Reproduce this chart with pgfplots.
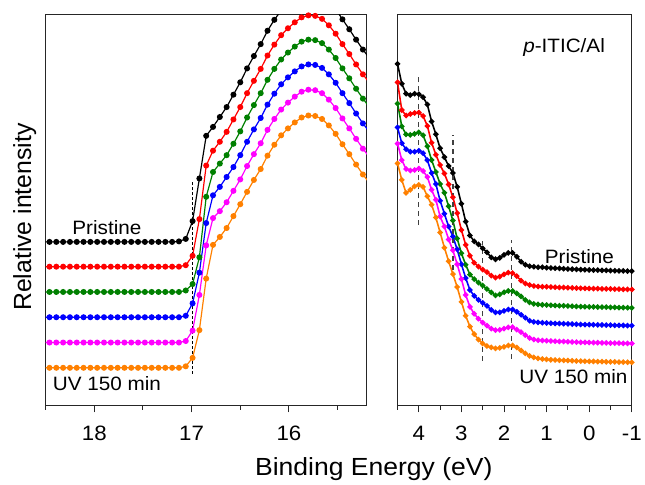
\documentclass[border=0pt]{standalone}
\usepackage{fontspec}
\setmainfont{Liberation Sans}[FakeStretch=1.07]
\newfontfamily\plainfont{Liberation Sans}
\usepackage{pgfplots}
\usepackage{pgfplotstable}
\pgfplotsset{compat=1.18}
\definecolor{cgreen}{RGB}{0,128,0}
\definecolor{corange}{RGB}{255,128,0}
\definecolor{cmag}{RGB}{255,0,255}

\pgfplotstableread{
x bk rd gn bl mg or
18.53 165 140 114.5 89 63.5 38
18.46 165 140 114.5 89 63.5 38
18.39 165 140 114.5 89 63.5 38
18.32 165 140 114.5 89 63.5 38
18.25 165 140 114.5 89 63.5 38
18.18 165 140 114.5 89 63.5 38
18.11 165 140 114.5 89 63.5 38
18.04 165 140 114.5 89 63.5 38
17.97 165 140 114.5 89 63.5 38
17.90 165 140 114.5 89 63.5 38
17.83 165 140 114.5 89 63.5 38
17.76 165 140 114.5 89 63.5 38
17.69 165 140 114.5 89 63.5 38
17.62 165 140 114.5 89 63.5 38
17.55 165 140 114.5 89 63.5 38
17.48 165 140 114.5 89 63.5 38
17.41 165 140 114.5 89 63.5 38
17.34 165 140 114.5 89 63.5 38
17.27 165 140 114.5 89 63.5 38
17.20 165 140 114.5 89 63.5 38
17.13 165.5 140 114.5 89 63.5 38
17.06 168 141.5 116 90.5 65 39.5
16.99 186 151 122.5 103 75.5 48
16.92 229 188 149.5 134 111.5 76
16.85 272 242 210.5 184 161.5 128
16.78 281 257 235.5 212 189 162
16.71 291 266 244 220.5 196 170
16.64 301 276 252.5 230.5 205 179
16.57 313.5 288.5 264 240.5 216.5 191
16.50 326 301 276.5 252.5 228 203
16.43 340 315 290.5 266 241.5 215.5
16.36 352.5 327.5 303 278.5 253.5 227.5
16.29 364.5 339.5 315 290 264.5 238.5
16.22 378 353 328.5 303.5 278 252
16.15 389 364 339.5 314.5 289 263
16.08 398.5 373.5 349 324 298.5 272.5
16.01 405.5 380.5 356 331 305.5 279.5
15.94 411.5 386.5 362 337 311.5 285.5
15.87 416.5 391.5 367 342 316.5 290.5
15.80 418.5 393.5 369 344 318.5 292.5
15.73 418 393 368.5 343.5 318 292
15.66 415 390 365.5 340.5 315 289
15.59 408.5 383.5 359 334 308.5 282.5
15.52 400 375 350.5 325.5 300 274
15.45 389.5 364.5 340 315 289.5 263.5
15.38 379.5 354.5 330 305 279.5 253.5
15.31 369 344 319.5 294.5 269 243
15.24 359 334 309.5 284.5 259 233
15.17 350 325 300.5 275.5 250 224
}\lefttab

\pgfplotstableread{
x bk rd gn bl mg or
4.5 344.5 326 304.5 280.5 264.2 244.2
4.4 324.5 298 281.5 264.5 247.5 227.5
4.3 314.5 292.5 273.5 258.5 238.5 214.5
4.2 313 294 273 256 237 217.5
4.1 314.5 295 274 256 237.5 221
4.0 314 295.5 275.5 257 239 222.5
3.9 311 292 272.5 254.5 236.5 220.5
3.8 303.5 282 261.5 247.5 230.5 211
3.7 286.5 265 247.5 234.5 217.5 202.5
3.6 273.5 253 235.5 223.5 207.5 189.5
3.5 259.5 242.5 223.5 206.5 190.5 174.5
3.4 250.5 234 214.5 193.5 180.5 159.2
3.3 241.5 223 201 180.5 167.5 145.5
3.2 234.5 210 186.5 170.5 156.5 132.5
3.1 220.5 194 168.5 157.5 142.5 119.5
3.0 203.5 177 153.5 142.5 127.5 104.5
2.9 185.5 162 142 128.5 111.5 90.5
2.8 171.5 151 132 116.5 99.5 79.5
2.7 165.5 144 127.5 110.5 92.5 72
2.6 162.5 140 124 106.5 87.5 66.5
2.5 158.5 137 121 103.5 83.5 62.5
2.4 154.5 134.5 117.5 100.5 80.5 60
2.3 149.5 131 114 96.5 77.5 58.5
2.2 147.5 129 111 93.8 76 57.5
2.1 149 130 112 94 76.3 58
2.0 152 132.3 114.2 95.5 77.5 59.2
1.9 154 134 115.5 96.8 78.8 60.5
1.8 154 133.5 115.5 96.8 79 60.5
1.7 150 130.5 113 94.5 76.5 58.5
1.6 145 126 110 91.5 74 55.5
1.5 142 123 106.5 88.5 71 52.5
1.4 140.5 121.5 104 85.5 68 50
1.3 140 120.5 102.5 84.3 66.5 48.5
1.2 139.5 120 102 83.8 65.8 47.5
1.1 139.5 119.8 101.5 83.5 65.5 46.8
1.0 139 119.7 101.3 83.3 65.3 46.5
0.9 138.7 119.5 101 83 65 46
0.8 138.5 119.3 100.8 82.8 64.8 45.8
0.7 138.3 119.1 100.6 82.6 64.6 45.6
0.6 138 119 100.5 82.5 64.5 45.5
0.5 137.7 118.8 100.3 82.3 64.3 45.3
0.4 137.5 118.6 100.1 82.1 64.1 45.1
0.3 137.3 118.4 99.9 81.9 63.9 44.9
0.2 137 118.2 99.7 81.7 63.7 44.7
0.1 136.9 118.1 99.6 81.6 63.6 44.6
0.0 136.7 118 99.5 81.5 63.5 44.5
-0.1 136.5 117.9 99.4 81.4 63.4 44.4
-0.2 136.5 117.8 99.3 81.3 63.3 44.3
-0.3 136.3 117.7 99.2 81.2 63.2 44.2
-0.4 136.2 117.6 99.1 81.1 63.1 44.1
-0.5 136 117.5 99 81 63 44
-0.6 135.9 117.4 98.9 80.9 62.9 43.9
-0.7 135.8 117.3 98.8 80.8 62.8 43.8
-0.8 135.7 117.2 98.7 80.7 62.7 43.7
-0.9 135.5 117.1 98.6 80.6 62.6 43.6
-1.0 135.5 117 98.5 80.5 62.5 43.5
}\righttab

\pgfplotsset{
  panel/.style={
    scale only axis, x dir=reverse,
    ymin=0, ymax=394, ytick=\empty,
    xtick pos=bottom, tick align=outside,
    major tick length=7pt, minor tick length=4.5pt,
    axis line style={line width=1pt, black!85},
    every tick/.append style={line width=1pt, black!85},
    tick label style={font=\fontsize{21}{25}\selectfont},
    xticklabel style={yshift=-10pt},
    /pgf/number format/assume math mode=true,
    anchor=south west,
  },
  lp/.style={mark=*, line width=1.2pt, mark size=2.4pt, mark options={solid}},
  rp/.style={mark=*, line width=1.6pt, mark size=1.9pt, mark options={solid}},
  rdash/.style={black!75, line width=1.3pt, dash pattern=on 5pt off 4pt},
}

\begin{document}
\begin{tikzpicture}
\path (0pt,0pt) rectangle (645pt,-486pt);
\begin{axis}[panel, at={(46pt,-409pt)}, width=324pt, height=394pt,
  xmin=15.2, xmax=18.5, xtick={16,17,18}, minor xtick={15.5,16.5,17.5,18.5}]
\addplot[lp, black] table[x=x, y=bk] {\lefttab};
\addplot[lp, red] table[x=x, y=rd] {\lefttab};
\addplot[lp, cgreen] table[x=x, y=gn] {\lefttab};
\addplot[lp, blue] table[x=x, y=bl] {\lefttab};
\addplot[lp, cmag] table[x=x, y=mg] {\lefttab};
\addplot[lp, corange] table[x=x, y=or] {\lefttab};
\addplot[black, line width=1.6pt, dash pattern=on 3pt off 2pt] coordinates {(16.99,32) (16.99,225)};
\node[anchor=base, font=\fontsize{19.5}{23}\selectfont] at (axis cs:17.87,172.3) {Pristine};
\node[anchor=base, font=\fontsize{19.5}{23}\selectfont] at (axis cs:17.87,14.7) {UV 150 min};
\end{axis}
\begin{axis}[panel, at={(401pt,-409pt)}, width=236.3pt, height=394pt,
  xmin=-1, xmax=4.5, xtick={-1,0,1,2,3,4}, minor xtick={-0.5,0.5,1.5,2.5,3.5,4.5}]
\addplot[rp, black] table[x=x, y=bk] {\righttab};
\addplot[rp, red] table[x=x, y=rd] {\righttab};
\addplot[rp, cgreen] table[x=x, y=gn] {\righttab};
\addplot[rp, blue] table[x=x, y=bl] {\righttab};
\addplot[rp, cmag] table[x=x, y=mg] {\righttab};
\addplot[rp, corange] table[x=x, y=or] {\righttab};
\addplot[rdash] coordinates {(4.0,182) (4.0,332)};
\addplot[rdash] coordinates {(3.2,137) (3.2,273)};
\addplot[rdash] coordinates {(2.5,45) (2.5,166)};
\addplot[rdash] coordinates {(1.83,47) (1.83,167)};
\node[anchor=base, font=\fontsize{19.5}{23}\selectfont] at (axis cs:0.59,356.3) {\textit{p}-ITIC/Al};
\node[anchor=base, font=\fontsize{19.5}{23}\selectfont] at (axis cs:0.23,143) {Pristine};
\node[anchor=base, font=\fontsize{19.5}{23}\selectfont] at (axis cs:0.37,21.7) {UV 150 min};
\end{axis}
\node[anchor=base, font=\fontsize{25}{30}\selectfont] at (377pt,-480pt) {Binding Energy (eV)};
\node[anchor=base, rotate=90, font=\plainfont\fontsize{25}{30}\selectfont] at (31.5pt,-219pt) {Relative intensity};
\end{tikzpicture}
\end{document}
